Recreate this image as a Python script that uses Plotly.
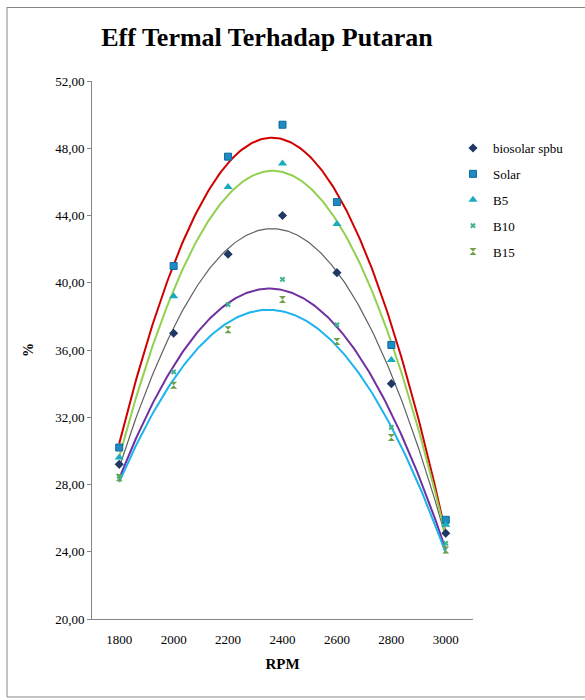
import numpy as np
import plotly.graph_objects as go

rpm = [1800, 2000, 2200, 2400, 2600, 2800, 3000]
biosolar = [29.2, 37.0, 41.7, 44.0, 40.6, 34.0, 25.1]
solar = [30.2, 41.0, 47.5, 49.4, 44.8, 36.3, 25.9]
b5 = [29.6, 39.2, 45.7, 47.1, 43.5, 35.4, 25.6]
b10 = [28.5, 34.7, 38.7, 40.2, 37.5, 31.4, 24.5]
b15 = [28.4, 33.9, 37.2, 39.0, 36.5, 30.8, 24.1]
y_ticks = [20, 24, 28, 32, 36, 40, 44, 48, 52]
x_ticks = rpm

series = [
    ("biosolar spbu", biosolar, dict(symbol="diamond", size=7, color="#1F3864"), "#606060", 1.2),
    ("Solar", solar, dict(symbol="square", size=7, color="#1E8BC3", line=dict(color="#0F6A9C", width=1)), "#D00000", 2),
    ("B5", b5, dict(symbol="triangle-up", size=8, color="#1AABBE"), "#92D050", 2),
    ("B10", b10, dict(symbol="x", size=5, color="#3DB48C"), "#7030A0", 2),
    ("B15", b15, dict(symbol="hourglass", size=7, color="#6FA04A"), "#1EB4F0", 2),
]

fig = go.Figure()
xs = np.linspace(rpm[0], rpm[-1], 200)
# trendlines (polynomial order 2, as in the original)
for name, vals, mk, lc, lw in series:
    c = np.polyfit(rpm, vals, 2)
    fig.add_trace(go.Scatter(x=xs, y=np.polyval(c, xs), mode="lines",
                             line=dict(color=lc, width=lw),
                             showlegend=False, hoverinfo="skip"))
for i, (name, vals, mk, lc, lw) in enumerate(series):
    fig.add_trace(go.Scatter(x=rpm, y=vals, mode="markers", name=name, marker=mk,
                             legendgroup="g%d" % i))

serif = "Liberation Serif"
L, R, T, B = 92, 473, 81, 619
W, H = 585, 700
fig.update_layout(
    width=W, height=H,
    margin=dict(l=L, r=W - R, t=T, b=H - B),
    paper_bgcolor="white", plot_bgcolor="white",
    separators=",.",
    font=dict(family=serif, size=13, color="#000000"),
    title=dict(text="<b>Eff Termal Terhadap Putaran</b>", x=267 / W, xanchor="center",
               y=1 - 37 / H, yanchor="middle", font=dict(family=serif, size=26)),
    xaxis=dict(range=[1700, 3100], tickvals=x_ticks, ticktext=[str(v) for v in x_ticks],
               showgrid=False, zeroline=False, showline=True, linecolor="#868686", linewidth=1,
               ticks="", tickfont=dict(size=13), ticklabelstandoff=8, automargin=False,
               title=dict(text="<b>RPM</b>", font=dict(size=15), standoff=12)),
    yaxis=dict(range=[20, 52], tickvals=y_ticks, tickformat=".2f",
               showgrid=False, zeroline=False, showline=True, linecolor="#868686", linewidth=1,
               ticks="outside", ticklen=4, tickcolor="#868686", tickfont=dict(size=13),
               automargin=False,
               title=dict(text="<b>%</b>", font=dict(size=14), standoff=18)),
    legend=dict(x=(453 - L) / (R - L), y=(B - 133) / (B - T), xanchor="left", yanchor="top",
                bgcolor="rgba(0,0,0,0)", itemwidth=30, tracegroupgap=6,
                font=dict(size=13, family=serif)),
    showlegend=True,
)
# outer chart frame
px = lambda v: (v - L) / (R - L)
py = lambda v: (B - v) / (B - T)
fig.add_shape(type="line", xref="paper", yref="paper", x0=px(7), x1=px(7),
              y0=py(697), y1=py(7), line=dict(color="#868686", width=1))
fig.add_shape(type="line", xref="paper", yref="paper", x0=px(7), x1=px(600),
              y0=py(7.5), y1=py(7.5), line=dict(color="#868686", width=1))
fig.add_shape(type="line", xref="paper", yref="paper", x0=px(7), x1=px(600),
              y0=py(697), y1=py(697), line=dict(color="#868686", width=1))

fig.write_html("out.html", config={"displayModeBar": False},
               post_script="document.body.style.margin='0';")
